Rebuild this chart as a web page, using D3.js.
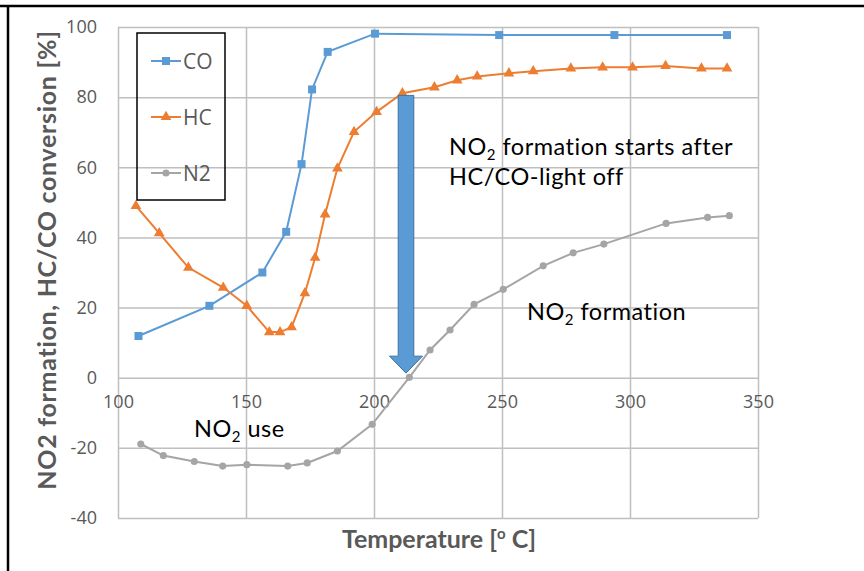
<!DOCTYPE html>
<html>
<head>
<meta charset="utf-8">
<script src="https://cdn.jsdelivr.net/npm/d3@7"></script>
<style>
  html, body { margin: 0; padding: 0; background: #fff; }
  svg { display: block; font-family: Lato, "Open Sans", sans-serif; }
</style>
</head>
<body>
<svg id="chart" width="864" height="571"></svg>
<script>
// Temperature sweeps [°C] and measured values [%]
const coTemp = [108, 135.7, 156.4, 165.7, 171.7, 175.8, 181.9, 200.4, 248.9, 293.9, 337.9];
const coConv = [11.9, 20.5, 30.0, 41.6, 60.9, 82.2, 92.9, 98.1, 97.7, 97.7, 97.7];

const hcTemp = [107, 116.1, 127.5, 141.1, 150.3, 159.1, 163.3, 167.8, 173.0, 177.0, 180.9, 185.7, 192.2,
                201.0, 211.1, 223.6, 232.5, 240.3, 252.7, 262.2, 276.9, 289.3, 301.0, 313.9, 327.9, 337.9];
const hcConv = [49.0, 41.2, 31.4, 25.7, 20.5, 13.0, 13.0, 14.4, 24.1, 34.2, 46.6, 59.7, 70.1,
                75.8, 81.1, 82.8, 84.8, 85.9, 86.8, 87.4, 88.2, 88.5, 88.5, 88.9, 88.2, 88.2];

const n2Temp = [108.9, 117.7, 129.8, 140.9, 150.3, 166.3, 173.9, 185.7, 199.3, 213.8, 221.9, 229.7,
                239.1, 250.5, 266.1, 277.8, 289.8, 314.1, 330.3, 338.8];
const n2Form = [-18.9, -22.2, -23.9, -25.2, -24.8, -25.2, -24.3, -20.9, -13.3, 0.1, 7.9, 13.6,
                20.9, 25.2, 31.9, 35.6, 38.1, 44.0, 45.7, 46.2];

const seriesNames = ["CO", "HC", "N2"];
const seriesColors = ["#5B9BD5", "#ED7D31", "#A5A5A5"];
const xTicks = [100, 150, 200, 250, 300, 350];
const yTicks = [-40, -20, 0, 20, 40, 60, 80, 100];

// Arrow: from the HC light-off level down to where NO2 formation begins
const arrowTemp = 212.5;
const arrowFrom = 80.5;
const arrowTo = 1.3;

const svg = d3.select("#chart");
const plotL = 118, plotR = 758, plotT = 27, plotB = 518;

const x = d3.scaleLinear().domain([100, 350]).range([plotL, plotR]);
const y = d3.scaleLinear().domain([-40, 100]).range([plotB, plotT]);

const textGrey = "#595959";
const gridGrey = "#BFBFBF";
const tickFont = "'Open Sans', sans-serif";
const plain = d => String(d);   // hyphen-minus for negative ticks

// Outer frame lines
svg.append("line").attr("x1", 0).attr("x2", 864).attr("y1", 6).attr("y2", 6)
  .attr("stroke", "#000").attr("stroke-width", 2.5);
svg.append("line").attr("x1", 8).attr("x2", 8).attr("y1", 5).attr("y2", 571)
  .attr("stroke", "#000").attr("stroke-width", 2.5);

// Vertical gridlines
svg.append("g")
  .attr("transform", `translate(0,${plotB})`)
  .call(d3.axisBottom(x).tickValues(xTicks).tickSize(-(plotB - plotT)).tickFormat(""))
  .call(g => g.select(".domain").remove())
  .call(g => g.selectAll("line").attr("stroke", gridGrey).attr("stroke-width", 1.5));

// Horizontal gridlines and y tick labels
svg.append("g")
  .attr("transform", `translate(${plotL},0)`)
  .call(d3.axisLeft(y).tickValues(yTicks).tickSize(-(plotR - plotL)).tickPadding(21).tickFormat(plain))
  .call(g => g.select(".domain").remove())
  .call(g => g.selectAll("line").attr("stroke", gridGrey).attr("stroke-width", 1.5))
  .call(g => g.selectAll("text").attr("fill", textGrey).attr("font-size", 18)
    .attr("font-family", tickFont));

// X tick labels sit below the zero line
svg.append("g")
  .attr("transform", `translate(0,${y(0)})`)
  .call(d3.axisBottom(x).tickValues(xTicks).tickSize(0).tickPadding(18).tickFormat(plain))
  .call(g => g.select(".domain").remove())
  .call(g => g.selectAll("text").attr("fill", textGrey).attr("font-size", 18)
    .attr("font-family", tickFont));

// Series
const series = [
  { name: "CO", t: coTemp, v: coConv, color: seriesColors[0], marker: d3.symbolSquare, size: 64 },
  { name: "HC", t: hcTemp, v: hcConv, color: seriesColors[1], marker: d3.symbolTriangle, size: 50 },
  { name: "N2", t: n2Temp, v: n2Form, color: seriesColors[2], marker: d3.symbolCircle, size: 40 }
];

const line = d3.line().x(d => x(d[0])).y(d => y(d[1]));

series.forEach(s => {
  const pts = s.t.map((t, i) => [t, s.v[i]]);
  const g = svg.append("g");
  g.append("path").datum(pts).attr("d", line)
    .attr("fill", "none").attr("stroke", s.color).attr("stroke-width", 2);
  g.selectAll("path.pt").data(pts).join("path").attr("class", "pt")
    .attr("transform", d => `translate(${x(d[0])},${y(d[1])})`)
    .attr("d", d3.symbol().type(s.marker).size(s.size))
    .attr("fill", s.color);
});

// Block arrow
const ax = x(arrowTemp);
const ay0 = y(arrowFrom), ay1 = y(arrowTo);
const shaftHalf = 7.8, headHalf = 16.5, headLen = 17;
svg.append("path")
  .attr("d", `M${ax - shaftHalf},${ay0} L${ax + shaftHalf},${ay0} L${ax + shaftHalf},${ay1 - headLen}
              L${ax + headHalf},${ay1 - headLen} L${ax},${ay1} L${ax - headHalf},${ay1 - headLen}
              L${ax - shaftHalf},${ay1 - headLen} Z`)
  .attr("fill", "#5B9BD5").attr("stroke", "#41719C").attr("stroke-width", 1);

// Legend (no fill; gridlines show through)
const legend = svg.append("g");
legend.append("rect").attr("x", 137).attr("y", 33).attr("width", 88).attr("height", 167)
  .attr("fill", "none").attr("stroke", "#000").attr("stroke-width", 1.5);
series.forEach((s, i) => {
  const ly = 61 + i * 56;
  legend.append("line").attr("x1", 151).attr("x2", 181).attr("y1", ly).attr("y2", ly)
    .attr("stroke", s.color).attr("stroke-width", 2);
  legend.append("path").attr("transform", `translate(166,${ly})`)
    .attr("d", d3.symbol().type(s.marker).size(s.size)).attr("fill", s.color);
  legend.append("text").attr("x", 183).attr("y", ly).attr("dy", "0.36em")
    .attr("font-size", 21).attr("font-family", tickFont)
    .attr("fill", textGrey).text(seriesNames[i]);
});

// Annotations with subscript 2
function annot(xp, yp, before, after) {
  const t = svg.append("text").attr("x", xp).attr("y", yp)
    .attr("font-size", 23.5).attr("letter-spacing", 0.5).attr("fill", "#000");
  t.append("tspan").text(before);
  t.append("tspan").attr("font-size", 15).attr("dy", 5).text("2");
  t.append("tspan").attr("dy", -5).text(after);
  return t;
}
annot(449, 155, "NO", " formation starts after");
svg.append("text").attr("x", 449).attr("y", 185).attr("font-size", 23.5)
  .attr("letter-spacing", 0.5).attr("fill", "#000")
  .text("HC/CO-light off");
annot(527, 320, "NO", "  formation");
annot(194, 437, "NO", " use");

// Axis titles
const xt = svg.append("text").attr("x", 439).attr("y", 548).attr("text-anchor", "middle")
  .attr("font-size", 25).attr("font-weight", "bold").attr("fill", textGrey);
xt.append("tspan").text("Temperature [");
xt.append("tspan").attr("font-size", 15).attr("dy", -9).text("o");
xt.append("tspan").attr("dy", 9).text("  C]");

svg.append("text")
  .attr("transform", "translate(56,260) rotate(-90)")
  .attr("text-anchor", "middle")
  .attr("font-size", 25).attr("letter-spacing", 0.7)
  .attr("font-weight", "bold").attr("fill", textGrey)
  .text("NO2 formation, HC/CO conversion [%]");
</script>
</body>
</html>
